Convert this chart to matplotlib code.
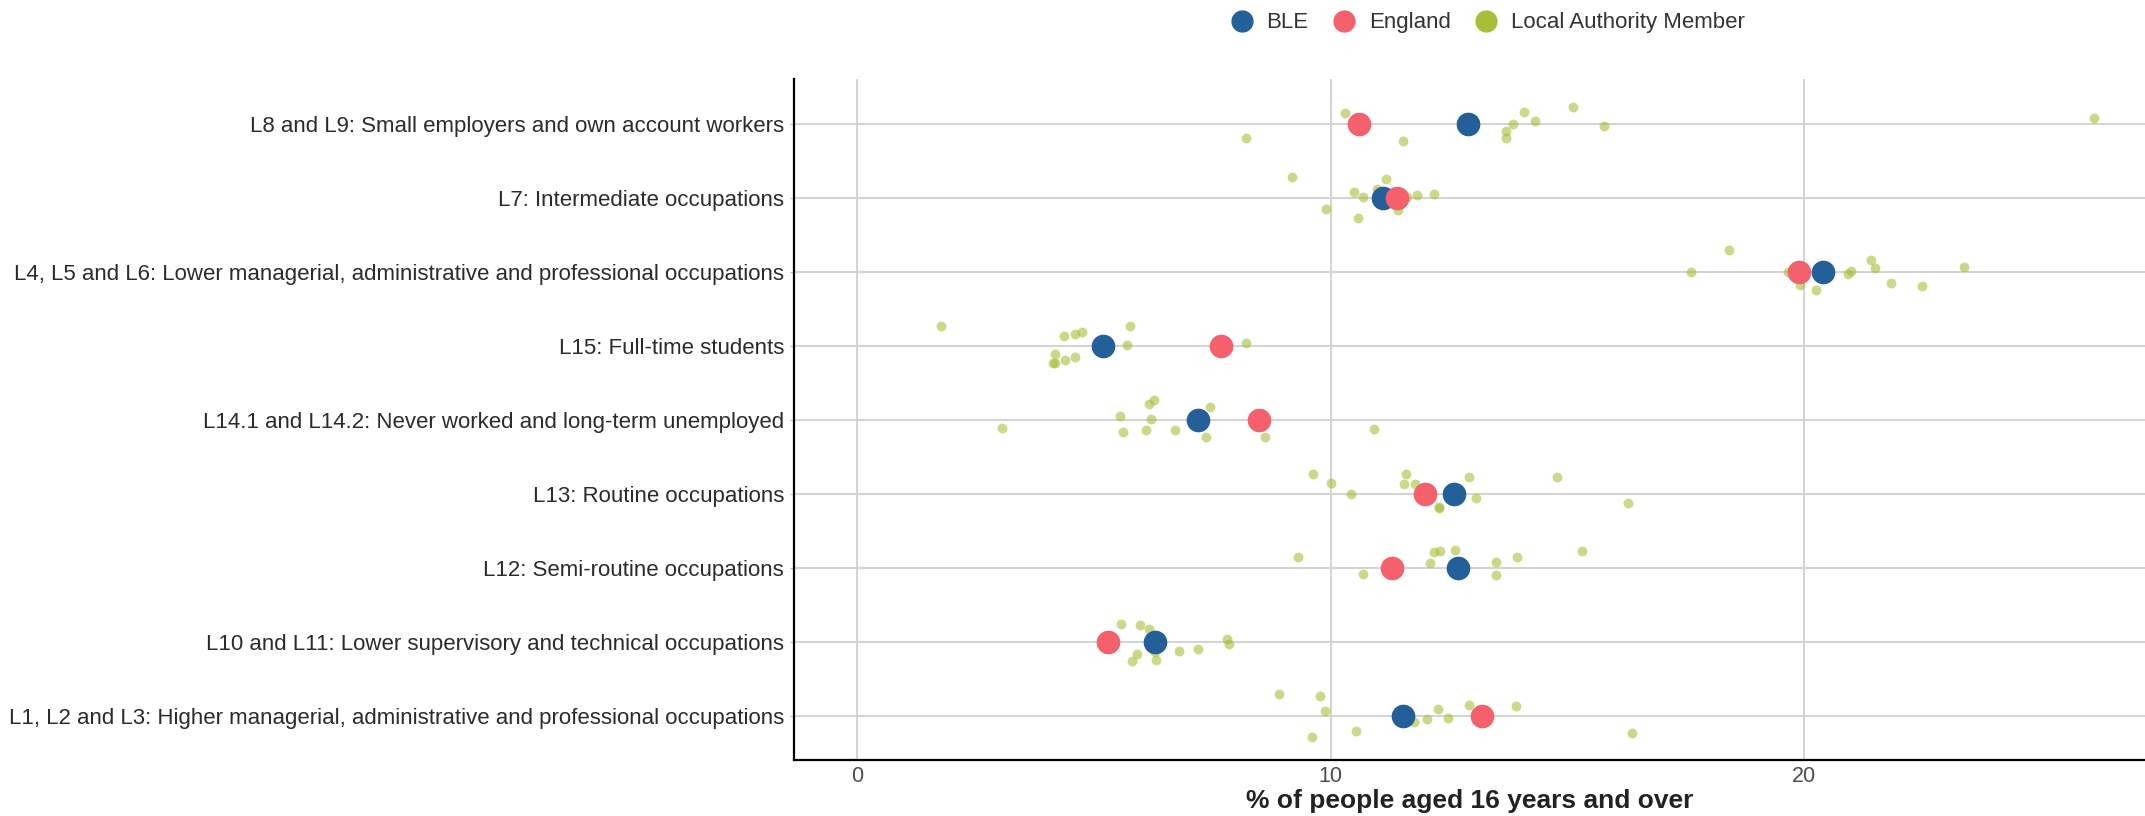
import matplotlib.pyplot as plt
from matplotlib.lines import Line2D

plt.rcParams['font.family'] = ['Liberation Sans', 'DejaVu Sans']

CATEGORIES = [
    "L8 and L9: Small employers and own account workers",
    "L7: Intermediate occupations",
    "L4, L5 and L6: Lower managerial, administrative and professional occupations",
    "L15: Full-time students",
    "L14.1 and L14.2: Never worked and long-term unemployed",
    "L13: Routine occupations",
    "L12: Semi-routine occupations",
    "L10 and L11: Lower supervisory and technical occupations",
    "L1, L2 and L3: Higher managerial, administrative and professional occupations",
]

BLE = [12.9, 11.1, 20.39, 5.19, 7.19, 12.6, 12.7, 6.3, 11.53]
ENGLAND = [10.6, 11.4, 19.9, 7.69, 8.49, 12.0, 11.29, 5.29, 13.2]

# local authority members, one list per category
LA_VALUES = [
    [10.31, 8.21, 11.52, 13.70, 13.70, 13.86, 14.09, 14.31, 15.11, 15.77, 26.12],
    [9.19, 11.16, 10.49, 10.68, 10.99, 11.62, 11.83, 12.18, 9.90, 10.58, 11.42],
    [18.41, 17.62, 19.67, 19.92, 20.26, 20.93, 20.99, 21.41, 21.50, 21.84, 22.50, 23.38],
    [1.78, 4.38, 4.60, 4.76, 5.77, 5.69, 8.21, 4.19, 4.39, 4.60, 4.13, 4.19],
    [6.28, 6.17, 7.46, 5.55, 6.21, 3.07, 5.62, 6.10, 6.72, 7.37, 8.62, 10.92],
    [9.62, 10.01, 10.43, 11.59, 11.54, 11.79, 12.92, 13.08, 12.29, 12.29, 14.79, 16.29],
    [9.32, 10.69, 11.34, 12.09, 12.18, 12.32, 12.63, 13.49, 13.49, 13.93, 15.32],
    [5.57, 5.98, 6.16, 5.92, 5.81, 6.32, 6.30, 6.80, 7.19, 7.81, 7.86],
    [8.91, 9.78, 9.89, 9.60, 10.53, 11.77, 12.03, 12.27, 12.48, 12.93, 13.91, 16.37],
]

# vertical jitter of each local authority point (fraction of a row)
LA_JITTER = [
    [-0.14, 0.19, 0.24, 0.10, 0.19, 0.0, -0.15, -0.04, -0.22, 0.03, -0.07],
    [-0.28, -0.25, -0.08, -0.01, -0.12, -0.01, -0.03, -0.05, 0.15, 0.28, 0.17],
    [-0.29, 0.01, 0.0, 0.18, 0.25, 0.03, -0.01, -0.15, -0.05, 0.16, 0.20, -0.06],
    [-0.27, -0.13, -0.16, -0.19, -0.26, -0.01, -0.03, 0.12, 0.19, 0.15, 0.24, 0.23],
    [-0.26, -0.21, -0.17, -0.05, -0.01, 0.11, 0.17, 0.14, 0.14, 0.23, 0.23, 0.13],
    [-0.27, -0.14, 0.0, -0.26, -0.13, -0.13, -0.23, 0.06, 0.18, 0.19, -0.23, 0.13],
    [-0.14, 0.08, -0.07, -0.06, -0.21, -0.22, -0.24, -0.08, 0.10, -0.14, -0.23],
    [-0.24, -0.23, -0.17, 0.17, 0.26, 0.25, 0.14, 0.13, 0.10, -0.03, 0.03],
    [-0.29, -0.26, -0.06, 0.29, 0.21, 0.09, 0.04, -0.09, 0.03, -0.14, -0.13, 0.24],
]

BLUE = "#23609a"
RED = "#f4606c"
GREEN = "#a8be38"

fig = plt.figure(figsize=(21.45, 8.16), dpi=100)
ax = fig.add_axes([0.37, 0.0686, 0.63, 0.8344])

for i in range(len(CATEGORIES)):
    ys = [i + j for j in LA_JITTER[i]]
    ax.scatter(LA_VALUES[i], ys, s=50, color=GREEN, alpha=0.6, linewidths=0, zorder=3)

rows = list(range(len(CATEGORIES)))
ax.scatter(BLE, rows, s=290, color=BLUE, linewidths=0, zorder=4)
ax.scatter(ENGLAND, rows, s=290, color=RED, linewidths=0, zorder=5)

ax.set_xlim(-1.34, 27.2)
ax.set_ylim(len(CATEGORIES) - 0.4, -0.6)
ax.set_yticks(rows)
ax.set_yticklabels(CATEGORIES)
ax.set_xticks([0, 10, 20])

ax.grid(True, color="#d4d4d4", linewidth=1.5, zorder=0)
ax.set_axisbelow(True)
for side in ["top", "right"]:
    ax.spines[side].set_visible(False)
for side in ["left", "bottom"]:
    ax.spines[side].set_color("black")
    ax.spines[side].set_linewidth(1.6)

ax.tick_params(axis="y", labelsize=16, labelcolor="#2b2b2b", length=3, color="#bbbbbb", pad=4)
ax.tick_params(axis="x", labelsize=15.5, labelcolor="#4d4d4d", length=0, pad=4)
ax.set_xlabel("% of people aged 16 years and over", fontsize=19, fontweight="bold",
              color="#222222", labelpad=2)

handles = [
    Line2D([], [], marker="o", linestyle="", markersize=15, color=BLUE, label="BLE"),
    Line2D([], [], marker="o", linestyle="", markersize=15, color=RED, label="England"),
    Line2D([], [], marker="o", linestyle="", markersize=15, color=GREEN, label="Local Authority Member"),
]
fig.legend(handles=handles, loc="center", bbox_to_anchor=(0.692, 0.972), ncol=3,
           frameon=False, fontsize=16, handletextpad=0.3, columnspacing=0.8,
           handlelength=1.6, labelcolor="#333333")

fig.savefig("out.png", dpi=100)
